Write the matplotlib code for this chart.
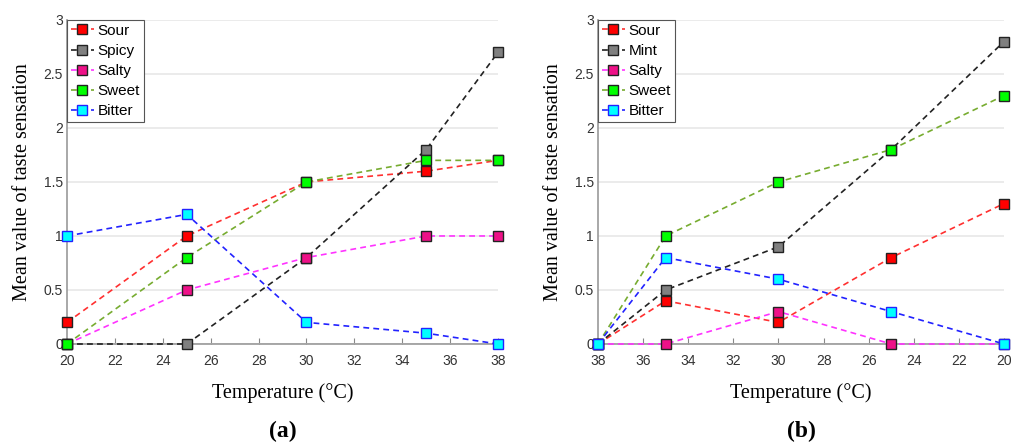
import matplotlib
matplotlib.use("Agg")

import matplotlib.pyplot as plt

# panel (a): heating
temps_a = [20, 25, 30, 35, 38]
sour_a = [0.2, 1.0, 1.5, 1.6, 1.7]
spicy_a = [0.0, 0.0, 0.8, 1.8, 2.7]
salty_a = [0.0, 0.5, 0.8, 1.0, 1.0]
sweet_a = [0.0, 0.8, 1.5, 1.7, 1.7]
bitter_a = [1.0, 1.2, 0.2, 0.1, 0.0]

# panel (b): cooling
temps_b = [38, 35, 30, 25, 20]
sour_b = [0.0, 0.4, 0.2, 0.8, 1.3]
mint_b = [0.0, 0.5, 0.9, 1.8, 2.8]
salty_b = [0.0, 0.0, 0.3, 0.0, 0.0]
sweet_b = [0.0, 1.0, 1.5, 1.8, 2.3]
bitter_b = [0.0, 0.8, 0.6, 0.3, 0.0]

x_ticks = [20, 22, 24, 26, 28, 30, 32, 34, 36, 38]
y_ticks = [0, 0.5, 1, 1.5, 2, 2.5, 3]
y_tick_labels = ["0", "0.5", "1", "1.5", "2", "2.5", "3"]

# line colour, marker face, marker edge
STYLES = {
    "Sour": ("#ff3030", "#ff0000", "#222222"),
    "Spicy": ("#222222", "#808080", "#222222"),
    "Mint": ("#222222", "#808080", "#222222"),
    "Salty": ("#ff33ff", "#ee1188", "#222222"),
    "Sweet": ("#77ac30", "#00ff00", "#222222"),
    "Bitter": ("#2222ff", "#00ffff", "#2222ff"),
}

SANS = "Liberation Sans"
SERIF = "Liberation Serif"


def draw_panel(fig, rect, temps, series, inverted, tag):
    ax = fig.add_axes(rect)
    for name, values in series:
        line_c, face_c, edge_c = STYLES[name]
        ax.plot(
            temps,
            values,
            linestyle=(0, (3.5, 2.5)),
            color=line_c,
            linewidth=1.2,
            marker="s",
            markersize=7.5,
            markerfacecolor=face_c,
            markeredgecolor=edge_c,
            markeredgewidth=1.0,
            label=name,
            clip_on=False,
            zorder=3,
        )

    if inverted:
        ax.set_xlim(38, 20)
    else:
        ax.set_xlim(20, 38)
    ax.set_ylim(0, 3)
    ax.set_xticks(x_ticks)
    ax.set_xticklabels([str(t) for t in x_ticks], fontfamily=SANS, fontsize=10, color="#333333")
    ax.set_yticks(y_ticks)
    ax.set_yticklabels(y_tick_labels, fontfamily=SANS, fontsize=10, color="#333333")
    ax.tick_params(axis="x", direction="in", length=4, color="#888888", pad=7)
    ax.tick_params(axis="y", direction="in", length=0, pad=3)

    ax.grid(axis="y", color="#e8e8e8", linewidth=1.2, zorder=0)
    ax.set_axisbelow(True)
    for side in ["top", "right"]:
        ax.spines[side].set_visible(False)
    for side in ["left", "bottom"]:
        ax.spines[side].set_color("#999999")
        ax.spines[side].set_linewidth(1.2)

    ax.set_xlabel("Temperature (\u00b0C)", fontfamily=SERIF, fontsize=14.5, labelpad=11)
    ax.set_ylabel("Mean value of taste sensation", fontfamily=SERIF, fontsize=14.5, labelpad=8)

    leg = ax.legend(
        loc="upper left",
        bbox_to_anchor=(0.0, 1.0),
        prop={"family": SANS, "size": 11},
        handlelength=1.5,
        handletextpad=0.25,
        borderpad=0.25,
        labelspacing=0.4,
        borderaxespad=0.0,
        fancybox=False,
        framealpha=1.0,
    )
    leg.get_frame().set_edgecolor("#555555")
    leg.get_frame().set_linewidth(0.8)

    mid = rect[0] + rect[2] / 2
    fig.text(mid, 0.027, tag, ha="center", va="center",
             fontfamily=SERIF, fontsize=17, fontweight="bold")
    return ax


def main() -> None:
    fig = plt.figure(figsize=(10.11, 4.43), dpi=100)

    series_a = [
        ("Sour", sour_a),
        ("Spicy", spicy_a),
        ("Salty", salty_a),
        ("Sweet", sweet_a),
        ("Bitter", bitter_a),
    ]
    series_b = [
        ("Sour", sour_b),
        ("Mint", mint_b),
        ("Salty", salty_b),
        ("Sweet", sweet_b),
        ("Bitter", bitter_b),
    ]

    draw_panel(fig, [0.0663, 0.2235, 0.4263, 0.7315], temps_a, series_a, False, "(a)")
    draw_panel(fig, [0.5915, 0.2235, 0.4016, 0.7315], temps_b, series_b, True, "(b)")

    fig.savefig("out.png", dpi=100)
    plt.close(fig)


if __name__ == "__main__":
    main()
